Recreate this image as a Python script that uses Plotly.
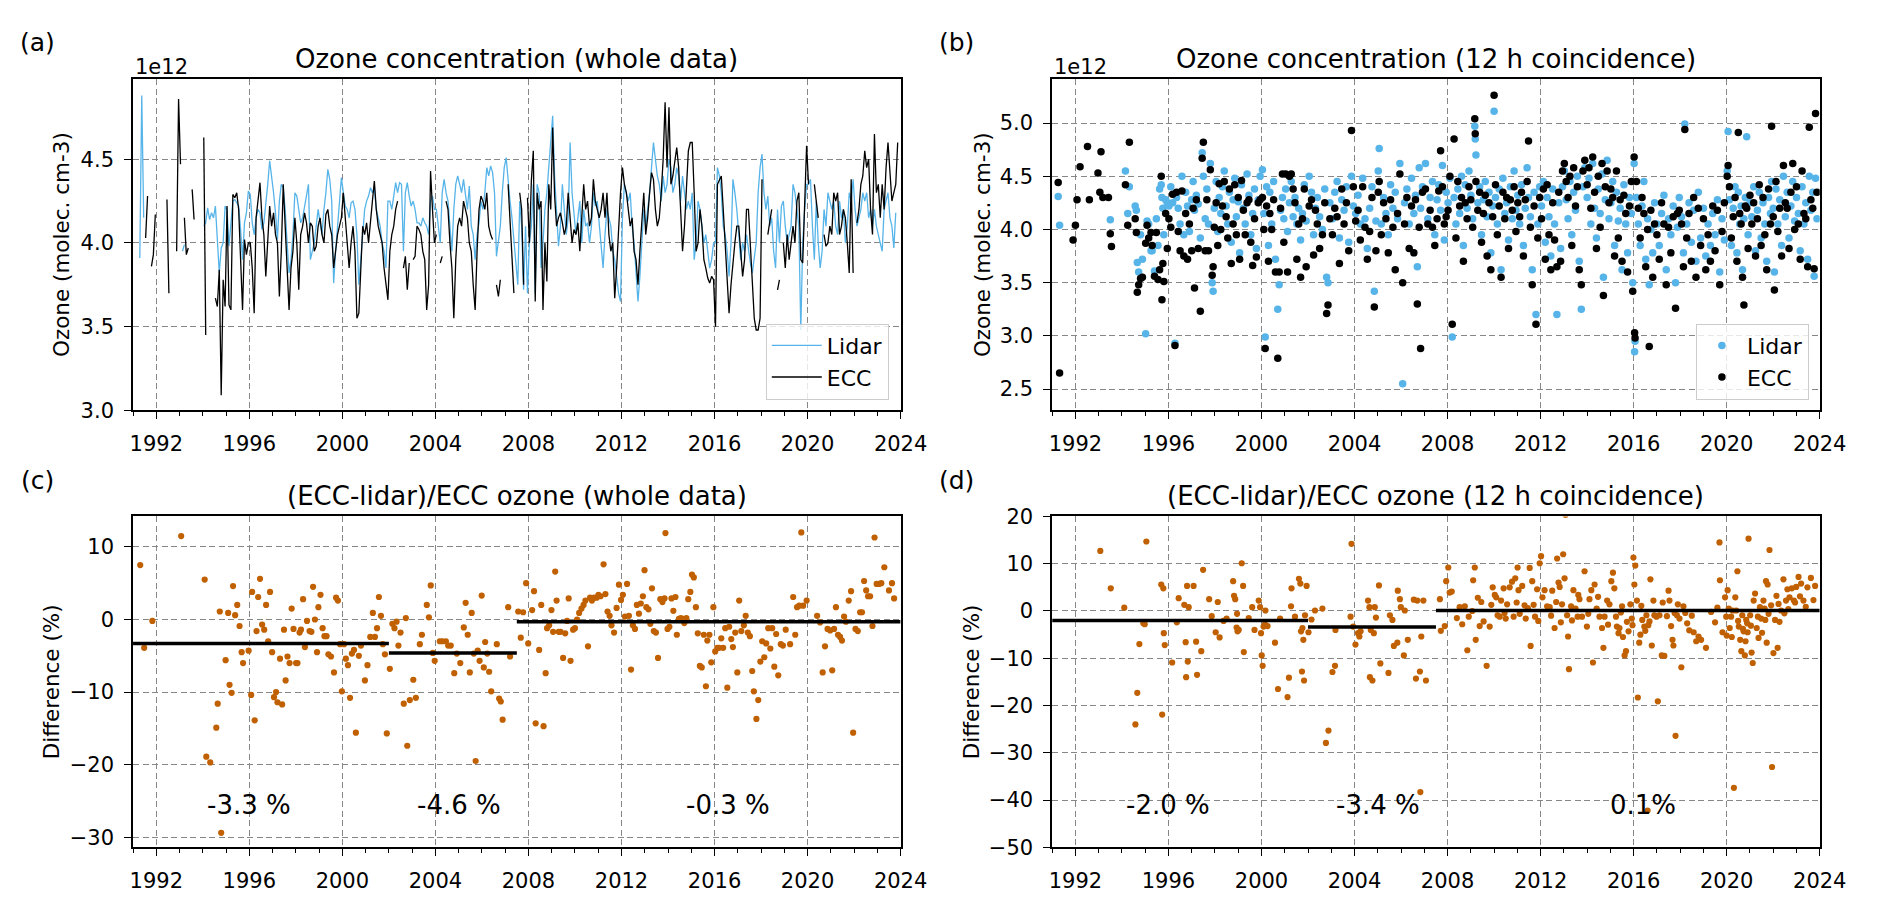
import plotly.graph_objects as go

N = None

# ---------------- panel (a): monthly means Jan..Dec per year, units 1e12 molec. cm-3
years_a = list(range(1991, 2024))
lidar_a = [
    N, N, N, 3.91, 4.88, 4.15, N, N, N, N, N, N,                          # 1991
    N, N, N, N, N, N, N, N, N, N, N, N,                                   # 1992
    N, 3.95, 3.99, N, N, N, N, N, N, N, N, N,                             # 1993
    4.10, 4.12, 4.21, 4.14, 4.18, 4.15, 4.22, 4.03, 3.82, 3.97, 4.00, 4.22,  # 1994
    4.20, 3.98, 4.10, 4.25, 4.26, 4.24, 4.22, 4.08, 3.90, 4.12, 4.18, 4.31,  # 1995
    4.29, 4.12, 4.05, 4.15, 4.20, 4.18, 4.08, 4.12, 4.22, 4.35, 4.49, 4.40,  # 1996
    4.30, 4.18, 4.02, 4.25, 4.35, 4.33, 4.20, 4.00, 3.82, 3.90, 4.05, 4.30,  # 1997
    4.28, 4.20, 4.12, 4.15, 4.22, 4.30, 4.35, 3.90, 3.95, 4.00, 4.10, 4.20,  # 1998
    4.12, 4.05, 4.20, 4.30, 4.44, 4.38, 4.25, 3.76, 3.95, 4.10, 4.20, 4.39,  # 1999
    4.30, 4.22, 4.20, 4.15, 4.24, 4.25, 4.20, 4.05, 3.75, 3.90, 4.00, 4.20,  # 2000
    4.25, 4.28, 4.33, 4.30, 4.33, 4.20, 4.15, 4.10, 4.00, 3.95, 3.85, 4.25,  # 2001
    4.25, 4.20, 4.28, 4.36, 4.30, 4.36, 4.35, 3.95, 4.30, 4.36, 4.28, 4.22,  # 2002
    4.25, 4.20, 4.12, 4.12, 4.10, 4.15, 4.12, 4.10, 4.05, 4.25, 4.28, 4.20,  # 2003
    4.20, 4.10, 4.00, 4.30, 4.38, 4.30, 4.25, 4.10, 3.95, 4.20, 4.35, 4.40,  # 2004
    4.35, 4.30, 4.38, 4.30, 4.20, 4.34, 4.10, 4.05, 3.90, 4.05, 4.12, 4.25,  # 2005
    4.20, 4.30, 4.45, 4.40, 4.46, 4.42, 4.30, 3.92, 4.00, 4.10, 4.30, 4.45,  # 2006
    4.51, 4.35, 4.25, 4.15, 4.00, 3.90, 3.75, 4.25, 4.10, 3.72, 4.10, 3.70,  # 2007
    4.00, 4.10, 4.35, 3.70, 4.35, 4.30, 3.85, 4.00, 4.20, 4.30, 4.45, 4.60,  # 2008
    4.76, 4.40, 4.20, 3.98, 4.10, 4.35, 4.20, 4.05, 4.15, 4.60, 4.30, 4.15,  # 2009
    4.05, 4.15, 4.25, 4.00, 4.20, 4.10, 4.12, 4.00, 4.10, 4.30, 4.22, 4.25,  # 2010
    4.10, 4.00, 3.85, 4.05, 4.20, 4.15, 4.10, 3.95, 3.90, 3.80, 3.70, 3.65,  # 2011
    4.15, 4.35, 4.30, 4.25, 4.30, 4.10, 4.00, 3.85, 3.65, 3.80, 4.00, 4.20,  # 2012
    4.10, 4.20, 4.30, 4.45, 4.60, 4.50, 4.40, 4.35, 4.25, 4.40, 4.30, 4.35,  # 2013
    4.50, 4.45, 4.30, 4.35, 4.45, 4.40, 4.25, 4.40, 4.30, 4.20, 4.25, 4.20,  # 2014
    4.30, 3.90, 4.00, 4.25, 4.20, 4.10, 4.00, 4.05, 3.95, 3.85, 3.90, 4.00,  # 2015
    4.00, 4.45, 4.40, 4.30, 4.10, 4.05, 3.95, 3.80, 4.00, 4.38, 4.30, 4.20,  # 2016
    4.05, 3.90, 4.00, 3.95, 4.05, 3.95, 3.88, 3.82, 3.90, 4.00, 4.30, 4.45,  # 2017
    4.53, 4.30, 4.20, 4.28, 4.10, 4.15, 3.95, 3.85, 4.20, 4.00, 4.22, 4.25,  # 2018
    4.10, 4.00, 4.05, 4.10, 4.35, 4.30, 4.20, 4.10, 3.48, 4.00, 4.20, 4.35,  # 2019
    4.35, 4.38, 4.10, 3.90, 4.25, 4.00, 3.85, 3.95, 4.20, 4.10, 4.30, 4.25,  # 2020
    4.20, 4.25, 4.10, 4.05, 4.25, 4.15, 4.20, 4.00, 4.10, 4.30, 4.25, 4.38,  # 2021
    4.20, 4.10, 4.15, 4.20, 4.30, 4.25, 4.30, 4.15, 4.20, 4.10, 4.20, 4.10,  # 2022
    4.05, 4.00, 3.95, 4.20, 4.25, 4.30, 4.15, 4.10, 3.97, 4.18, N, N,        # 2023
]
ecc_a = [
    N, N, N, N, N, N, 4.03, 4.28, N, 3.86, 3.93, 4.17,                    # 1991
    N, N, N, N, N, 4.26, 3.70, N, N, N, 3.95, 4.86,                       # 1992
    4.47, N, 4.15, 3.93, 3.97, N, 4.32, 4.14, N, N, N, N,                 # 1993
    4.63, 3.45, N, N, N, N, 3.67, 3.62, 3.84, 3.09, 3.78, 3.62,           # 1994
    4.22, 3.63, 3.60, 4.29, 4.27, 4.30, 4.20, 3.92, 3.60, 4.02, 3.93, 4.00,  # 1995
    4.00, 3.85, 3.58, 4.15, 4.28, 4.36, 4.15, 4.05, 3.80, 4.00, 4.22, 4.10,  # 1996
    4.18, 4.05, 4.00, 3.68, 3.95, 4.35, 4.10, 3.85, 3.60, 3.85, 3.95, 4.15,  # 1997
    4.00, 3.72, 4.05, 4.10, 4.18, 4.12, 4.00, 4.12, 4.10, 3.95, 3.98, 4.10,  # 1998
    4.15, 4.05, 4.00, 4.17, 4.20, 4.10, 4.05, 3.85, 3.95, 4.05, 4.10, 4.15,  # 1999
    4.30, 4.15, 3.95, 3.85, 4.00, 4.10, 3.95, 3.55, 3.58, 3.80, 4.10, 4.05,  # 2000
    4.12, 4.00, 4.15, 4.25, 4.37, 4.20, 4.10, 4.05, 4.00, 3.85, 3.75, 3.66,  # 2001
    3.95, 4.05, 4.10, 4.20, 4.25, N, N, 3.85, 3.92, 3.72, 3.88, N,           # 2002
    3.90, 3.92, 4.10, 4.08, 4.05, 3.95, 3.90, 3.60, 3.75, 4.43, 4.20, 4.00,  # 2003
    4.05, N, 3.88, 3.92, N, 4.25, 4.20, 4.00, 3.85, 3.55, 3.90, 4.10,        # 2004
    4.15, 4.10, 4.25, 4.20, 4.15, 4.00, 3.95, 3.75, 3.60, 3.95, 4.20, 4.28,  # 2005
    4.25, 4.20, 4.30, 4.10, 4.05, 4.02, N, 3.75, 3.68, 3.78, N, N,           # 2006
    N, 4.35, 4.12, 3.95, 3.70, N, N, 4.30, 4.20, 3.75, N, 4.27,              # 2007
    4.00, 4.37, 4.55, 3.65, 4.30, 4.20, 4.25, 3.60, 4.00, 3.77, 4.35, 4.20,  # 2008
    4.69, 4.28, 4.10, 4.15, 4.18, 4.12, 4.05, 4.10, 4.30, 4.15, 4.00, 4.08,  # 2009
    4.05, 4.12, 3.95, 4.15, 4.35, 4.20, 4.25, 4.10, 4.15, 4.38, 4.25, 4.20,  # 2010
    4.15, 4.20, 4.30, 4.15, 4.30, 4.05, 3.95, 4.00, 3.67, 3.85, 4.10, 4.30,  # 2011
    4.45, 4.35, 4.30, 4.20, 4.10, 4.15, 3.95, 3.90, 3.75, 3.95, 4.10, 4.30,  # 2012
    4.05, 4.15, 4.30, 4.42, 4.38, 4.20, 4.10, 4.15, 4.30, 4.50, 4.84, 4.45,  # 2013
    4.81, 4.35, 4.40, 4.50, 4.57, 4.45, 4.20, 3.95, 4.10, 4.30, 4.55, 4.60,  # 2014
    4.60, 4.30, 3.95, 4.00, 4.20, 4.10, 3.90, 3.85, 3.79, 3.76, 3.80, 3.78,  # 2015
    3.50, 4.35, 4.38, 4.40, 4.20, 4.00, 3.85, 3.58, 3.75, 3.90, 4.00, 4.10,  # 2016
    4.10, 3.95, 3.80, 3.90, 4.20, 4.20, 4.00, 3.80, 3.55, 3.48, 3.48, 3.55,  # 2017
    4.38, N, N, 4.05, 4.12, 4.20, N, N, 3.72, 3.78, N, 4.00,                 # 2018
    3.85, 4.05, 3.90, 4.00, 4.10, 4.00, 4.25, 4.30, 3.90, 3.88, 4.20, 4.58,  # 2019
    4.35, N, N, 4.35, 4.25, 4.15, N, N, 4.05, 3.98, 4.00, 4.10,              # 2020
    4.05, 4.30, 4.25, 4.30, 4.05, 4.10, 4.20, 4.15, 4.00, 3.82, 4.38, 3.82,  # 2021
    N, 4.12, 4.20, 4.35, 4.40, 4.55, 4.45, 4.50, 4.20, 4.05, 4.65, 4.30,     # 2022
    4.35, 4.15, 4.35, 4.20, 4.45, 4.60, 4.40, 4.25, 4.30, 4.35, 4.60, N,     # 2023
]

# ---------------- panel (b): 12 h coincidences (decimal year), units 1e12 molec. cm-3
dates_b = [
    1991.26, 1991.32, 1991.90, 1992.00, 1992.07, 1992.20, 1992.52, 1992.60, 1992.97, 1993.05, 1993.10, 1993.18, 1993.42, 1993.50, 1993.55,
    1994.15, 1994.25, 1994.32, 1994.57, 1994.62, 1994.66, 1994.72, 1994.80, 1994.88, 1995.02, 1995.08, 1995.15, 1995.25, 1995.30, 1995.40, 1995.48, 1995.55, 1995.62, 1995.69, 1995.72, 1995.76, 1995.80, 1995.88, 1995.95,
    1996.02, 1996.10, 1996.18, 1996.28, 1996.35, 1996.42, 1996.50, 1996.58, 1996.66, 1996.74, 1996.82, 1996.90, 1997.00, 1997.06, 1997.12, 1997.20, 1997.28, 1997.37, 1997.45, 1997.50, 1997.58, 1997.65, 1997.72, 1997.80, 1997.88, 1997.92, 1997.97,
    1998.05, 1998.12, 1998.18, 1998.25, 1998.32, 1998.40, 1998.48, 1998.55, 1998.62, 1998.70, 1998.78, 1998.85, 1998.92, 1999.00, 1999.06, 1999.14, 1999.22, 1999.30, 1999.38, 1999.46, 1999.54, 1999.62, 1999.70, 1999.78, 1999.86, 1999.94,
    2000.04, 2000.10, 2000.16, 2000.22, 2000.30, 2000.36, 2000.44, 2000.52, 2000.60, 2000.70, 2000.76, 2000.82, 2000.90, 2000.96, 2001.04, 2001.12, 2001.20, 2001.28, 2001.36, 2001.44, 2001.52, 2001.60, 2001.68, 2001.76, 2001.84, 2001.92,
    2002.05, 2002.15, 2002.24, 2002.32, 2002.40, 2002.50, 2002.62, 2002.72, 2002.80, 2002.86, 2002.94, 2003.05, 2003.15, 2003.25, 2003.35, 2003.45, 2003.55, 2003.65, 2003.75, 2003.87, 2003.95,
    2004.05, 2004.15, 2004.25, 2004.35, 2004.45, 2004.55, 2004.65, 2004.75, 2004.85, 2004.92, 2005.02, 2005.06, 2005.15, 2005.25, 2005.35, 2005.45, 2005.55, 2005.65, 2005.75, 2005.85, 2005.95,
    2006.07, 2006.15, 2006.25, 2006.35, 2006.45, 2006.55, 2006.62, 2006.70, 2006.78, 2006.84, 2006.92, 2007.05, 2007.15, 2007.25, 2007.35, 2007.45, 2007.55, 2007.62, 2007.70, 2007.78, 2007.86, 2007.94,
    2008.02, 2008.10, 2008.20, 2008.28, 2008.36, 2008.44, 2008.52, 2008.60, 2008.68, 2008.76, 2008.84, 2008.92, 2009.00, 2009.08, 2009.17, 2009.19, 2009.22, 2009.30, 2009.38, 2009.46, 2009.54, 2009.62, 2009.70, 2009.78, 2009.86, 2009.94,
    2010.00, 2010.06, 2010.14, 2010.22, 2010.30, 2010.38, 2010.46, 2010.54, 2010.62, 2010.70, 2010.78, 2010.86, 2010.94, 2011.02, 2011.10, 2011.18, 2011.26, 2011.34, 2011.42, 2011.48, 2011.56, 2011.64, 2011.72, 2011.80, 2011.88, 2011.96,
    2012.04, 2012.12, 2012.20, 2012.28, 2012.36, 2012.44, 2012.52, 2012.60, 2012.70, 2012.78, 2012.86, 2012.94, 2013.02, 2013.10, 2013.18, 2013.26, 2013.34, 2013.42, 2013.50, 2013.58, 2013.66, 2013.75, 2013.82, 2013.90,
    2014.00, 2014.08, 2014.16, 2014.24, 2014.32, 2014.40, 2014.48, 2014.56, 2014.64, 2014.70, 2014.78, 2014.86, 2014.94, 2015.02, 2015.10, 2015.18, 2015.26, 2015.34, 2015.42, 2015.50, 2015.58, 2015.66, 2015.74, 2015.82, 2015.90, 2015.96,
    2016.02, 2016.04, 2016.06, 2016.12, 2016.20, 2016.28, 2016.36, 2016.44, 2016.52, 2016.60, 2016.67, 2016.74, 2016.82, 2016.90, 2017.00, 2017.10, 2017.20, 2017.30, 2017.40, 2017.50, 2017.60, 2017.70, 2017.80, 2017.88, 2017.96,
    2018.06, 2018.14, 2018.20, 2018.28, 2018.38, 2018.48, 2018.58, 2018.68, 2018.78, 2018.88, 2019.00, 2019.10, 2019.20, 2019.30, 2019.40, 2019.50, 2019.60, 2019.70, 2019.80, 2019.90,
    2020.02, 2020.06, 2020.12, 2020.20, 2020.28, 2020.36, 2020.44, 2020.50, 2020.56, 2020.62, 2020.68, 2020.74, 2020.80, 2020.86, 2020.92, 2021.00, 2021.08, 2021.16, 2021.24, 2021.32, 2021.40, 2021.48, 2021.56, 2021.64, 2021.72, 2021.80, 2021.88, 2021.93,
    2022.00, 2022.05, 2022.12, 2022.20, 2022.28, 2022.36, 2022.44, 2022.52, 2022.60, 2022.68, 2022.76, 2022.84, 2022.92, 2023.00, 2023.08, 2023.16, 2023.24, 2023.32, 2023.40, 2023.48, 2023.55, 2023.62, 2023.70, 2023.76, 2023.82, 2023.88,
]
lidar_b = [
    4.31, 4.04, N, N, N, N, N, N, N, N, N, N, N, 4.09, N,
    4.55, 4.15, 4.40, 4.22, 4.18, 3.69, 3.60, 3.95, 3.72, 3.02, 4.08, 4.05, 3.80, 3.80, 3.61, 4.10, 3.85, 4.38, 4.42, 4.30, 4.20, 3.95, 4.28, 4.25,
    4.22, 4.40, 4.25, 2.93, 4.30, 4.20, 4.05, 4.50, 3.95, 4.35, 4.22, 3.98, 4.28, 4.45, 4.18, 4.32, 4.24, 3.92, 4.72, 4.50, 4.10, 4.38, 4.05, 4.62, 3.50, 3.42, 4.20,
    4.45, 3.98, 4.30, 4.15, 4.40, 4.55, 4.22, 4.05, 4.35, 3.88, 4.28, 4.48, 4.12, 4.26, 3.78, 4.42, 4.20, 4.05, 4.52, 4.32, 3.95, 4.15, 4.38, 3.82, 4.28, 4.50,
    4.56, 4.15, 2.99, 4.40, 3.85, 4.35, 4.05, 4.45, 3.72, 3.25, 3.48, 4.18, 4.30, 4.10, 4.38, 3.98, 4.25, 4.45, 4.12, 4.30, 4.05, 4.20, 3.90, 4.15, 4.42, 4.08,
    4.50, 4.35, 3.95, 4.20, 4.30, 4.12, 4.00, 4.38, 3.55, 3.50, 4.25, 4.10, 4.35, 4.45, 3.92, 4.28, 4.18, 4.40, 3.88, 4.50, 4.22,
    4.15, 4.32, 4.05, 4.48, 4.10, 3.82, 4.20, 4.40, 3.42, 4.08, 4.55, 4.76, 4.05, 4.30, 4.15, 3.95, 4.42, 4.20, 4.35, 4.10, 4.62,
    2.55, 4.25, 4.38, 4.05, 4.48, 4.15, 4.32, 3.65, 4.58, 4.20, 4.40, 4.62, 4.10, 4.30, 4.45, 3.95, 4.28, 4.42, 4.18, 4.60, 3.90, 4.35,
    4.25, 4.48, 2.99, 4.30, 4.05, 4.38, 4.15, 4.50, 3.85, 4.42, 4.20, 4.55, 4.32, 4.10, 4.97, 4.85, 4.70, 4.25, 4.40, 3.95, 4.28, 4.45, 4.12, 4.35, 3.78, 4.22,
    5.11, 4.30, 4.05, 4.38, 3.62, 4.48, 4.15, 4.25, 3.90, 4.40, 4.10, 4.55, 4.18, 4.32, 4.05, 4.42, 3.85, 4.20, 4.58, 4.30, 4.12, 3.62, 4.35, 3.20, 4.05, 4.40,
    4.22, 4.45, 3.88, 4.30, 4.12, 3.75, 4.38, 4.05, 3.20, 4.25, 3.82, 4.40, 4.55, 4.28, 4.10, 4.45, 3.95, 4.35, 4.18, 4.50, 3.70, 3.25, 4.40, 4.58,
    4.30, 4.48, 4.05, 4.62, 4.20, 3.92, 4.38, 4.15, 4.52, 3.55, 4.28, 4.65, 4.10, 4.25, 4.45, 3.85, 4.35, 4.08, 4.20, 3.62, 4.42, 4.05, 3.78, 4.30, 4.15, 3.50,
    4.62, 2.85, 2.95, 4.30, 4.05, 3.85, 4.22, 4.45, 3.72, 4.10, 3.48, 4.00, 3.78, 4.25, 4.05, 3.85, 4.15, 4.32, 3.62, 4.10, 3.95, 4.22, 3.50, 4.02, 4.30,
    4.12, 3.78, 4.99, 4.05, 4.25, 3.88, 4.18, 3.70, 4.35, 3.92, 4.20, 3.75, 4.05, 3.85, 4.15, 3.95, 4.28, 3.60, 4.10, 3.90,
    4.55, 4.92, 4.28, 3.85, 4.20, 4.40, 3.78, 4.35, 4.05, 4.22, 3.62, 4.10, 4.30, 4.87, 3.95, 4.25, 4.12, 4.40, 3.80, 4.18, 4.35, 3.92, 4.25, 4.05, 3.70, 4.30, 4.15, 4.45,
    4.20, 3.60, 4.38, 4.05, 4.28, 3.85, 4.50, 4.12, 4.35, 3.92, 4.22, 4.45, 4.08, 4.30, 4.15, 3.80, 4.40, 4.05, 4.25, 3.72, 4.50, 4.18, 4.35, 3.56, 4.48, 4.10,
]
ecc_b = [
    4.44, 2.65, 3.90, 4.04, 4.28, 4.59, 4.78, 4.28, 4.53, 4.35, 4.73, 4.30, 4.30, 3.96, 3.84,
    4.42, 4.04, 4.82, 4.10, 3.97, 3.41, 3.48, 3.54, 3.55, 3.87, 4.04, 3.92, 3.97, 3.85, 3.56, 3.97, 3.53, 3.62, 4.50, 3.34, 3.68, 3.51, 4.15, 3.82,
    4.10, 4.02, 4.33, 2.91, 4.35, 3.98, 3.80, 4.36, 3.75, 4.15, 3.72, 4.05, 3.80, 4.20, 3.45, 4.28, 3.82, 3.23, 4.67, 4.82, 3.80, 4.28, 3.80, 4.56, 3.57, 3.65, 4.02,
    4.25, 3.85, 4.43, 4.00, 4.22, 4.45, 4.12, 3.92, 4.38, 3.68, 4.05, 4.42, 3.95, 4.30, 3.72, 4.46, 4.18, 3.95, 4.25, 4.28, 3.88, 3.66, 4.10, 3.74, 4.25, 4.28,
    4.30, 4.00, 2.88, 4.22, 3.70, 4.15, 4.00, 4.28, 3.60, 2.79, 3.60, 4.20, 4.52, 3.88, 4.52, 3.60, 4.50, 4.52, 4.38, 4.25, 3.72, 4.05, 3.55, 4.10, 4.38, 3.65,
    4.22, 4.28, 3.76, 4.18, 4.05, 3.82, 3.95, 4.25, 3.21, 3.29, 4.10, 3.95, 4.20, 4.12, 3.68, 4.38, 4.05, 4.25, 3.80, 4.93, 4.40,
    4.08, 4.18, 3.90, 4.40, 4.02, 3.72, 3.98, 4.30, 3.27, 3.80, 4.35, 4.45, 3.95, 4.25, 4.10, 3.78, 4.28, 4.02, 3.62, 4.15, 4.52,
    3.50, 4.05, 4.30, 3.82, 4.22, 3.78, 4.28, 3.30, 4.02, 2.88, 4.35, 4.38, 4.05, 4.18, 4.02, 3.85, 4.10, 4.36, 4.74, 4.40, 4.05, 4.12,
    4.18, 4.50, 3.11, 4.85, 3.92, 4.45, 4.22, 4.30, 3.70, 4.25, 4.10, 4.40, 4.28, 4.02, 5.04, 4.90, 4.45, 4.18, 4.35, 3.88, 4.15, 4.32, 3.75, 4.25, 3.62, 4.12,
    5.26, 4.42, 3.95, 4.22, 3.55, 4.35, 4.10, 4.30, 3.82, 4.28, 4.18, 4.40, 3.98, 4.25, 4.12, 4.35, 3.75, 4.28, 4.45, 4.83, 4.02, 3.48, 4.22, 3.11, 3.92, 4.30,
    4.10, 4.38, 3.72, 4.42, 3.95, 3.62, 4.25, 3.90, 3.65, 4.35, 3.70, 4.55, 4.62, 4.45, 4.30, 4.50, 3.85, 4.58, 4.22, 4.40, 3.62, 3.48, 4.55, 4.65,
    4.42, 4.58, 4.20, 4.68, 4.35, 3.82, 4.50, 4.02, 4.62, 3.38, 4.40, 4.55, 4.25, 4.38, 4.30, 3.75, 4.55, 3.92, 4.28, 3.70, 4.32, 4.15, 3.60, 4.22, 4.45, 3.42,
    4.68, 3.03, 2.98, 4.45, 4.20, 3.92, 4.30, 4.15, 3.65, 4.00, 2.90, 4.18, 3.55, 4.05, 3.95, 3.72, 4.25, 4.05, 3.48, 4.02, 3.78, 4.12, 3.26, 4.15, 4.18,
    4.05, 3.65, 4.94, 3.92, 4.15, 3.70, 4.30, 3.55, 4.20, 3.85, 4.10, 3.62, 3.95, 3.70, 4.22, 3.80, 4.18, 3.48, 3.98, 4.25,
    4.50, 4.60, 4.40, 3.92, 4.12, 4.30, 3.70, 4.91, 4.15, 4.05, 3.55, 3.29, 4.22, 4.20, 3.82, 4.32, 4.05, 4.25, 3.75, 4.10, 4.42, 3.85, 4.30, 3.95, 3.62, 4.38, 4.05, 4.97,
    4.12, 3.43, 4.45, 3.98, 4.20, 3.75, 4.60, 4.25, 4.20, 3.82, 4.35, 4.62, 4.00, 4.40, 4.05, 3.72, 4.55, 4.15, 4.10, 3.65, 4.96, 4.28, 4.20, 3.63, 5.09, 4.35,
]

# ---------------- panel (c): (ECC-lidar)/ECC, whole data, %
dates_c = [
    1991.31, 1991.48, 1991.83, 1993.07, 1994.08, 1994.15, 1994.32, 1994.58, 1994.64, 1994.73,
    1994.79, 1994.98, 1995.09, 1995.15, 1995.24, 1995.30, 1995.39, 1995.48, 1995.58, 1995.67,
    1995.73, 1995.97, 1996.08, 1996.12, 1996.23, 1996.31, 1996.38, 1996.46, 1996.55, 1996.64,
    1996.72, 1996.81, 1996.89, 1996.98, 1997.06, 1997.15, 1997.21, 1997.32, 1997.41, 1997.49,
    1997.56, 1997.64, 1997.73, 1997.82, 1997.90, 1998.01, 1998.07, 1998.16, 1998.22, 1998.31,
    1998.39, 1998.48, 1998.59, 1998.67, 1998.74, 1998.82, 1998.91, 1998.97, 1999.06, 1999.15,
    1999.23, 1999.32, 1999.40, 1999.51, 1999.64, 1999.73, 1999.81, 1999.90, 1999.98, 2000.07,
    2000.15, 2000.24, 2000.33, 2000.41, 2000.50, 2000.58, 2000.71, 2000.80, 2000.97, 2001.08,
    2001.20, 2001.31, 2001.40, 2001.49, 2001.57, 2001.66, 2001.74, 2001.83, 2001.91, 2002.04,
    2002.15, 2002.24, 2002.33, 2002.41, 2002.50, 2002.64, 2002.73, 2002.79, 2002.90, 2003.05,
    2003.16, 2003.33, 2003.42, 2003.63, 2003.72, 2003.80, 2003.89, 2003.97, 2004.19, 2004.30,
    2004.45, 2004.55, 2004.66, 2004.81, 2004.92, 2005.07, 2005.22, 2005.30, 2005.39, 2005.48,
    2005.56, 2005.65, 2005.73, 2005.82, 2005.90, 2005.99, 2006.08, 2006.14, 2006.23, 2006.31,
    2006.40, 2006.64, 2006.74, 2006.81, 2006.89, 2007.13, 2007.21, 2007.56, 2007.67, 2007.77,
    2007.90, 2007.99, 2008.16, 2008.24, 2008.31, 2008.46, 2008.55, 2008.65, 2008.74, 2008.80,
    2008.89, 2008.99, 2009.06, 2009.15, 2009.21, 2009.30, 2009.38, 2009.49, 2009.58, 2009.66,
    2009.73, 2009.81, 2009.92, 2010.00, 2010.09, 2010.18, 2010.28, 2010.37, 2010.45, 2010.56,
    2010.65, 2010.73, 2010.82, 2010.93, 2011.01, 2011.10, 2011.23, 2011.31, 2011.40, 2011.49,
    2011.57, 2011.68, 2011.79, 2011.89, 2011.98, 2012.06, 2012.15, 2012.24, 2012.32, 2012.41,
    2012.49, 2012.58, 2012.66, 2012.75, 2012.83, 2012.92, 2012.99, 2013.07, 2013.16, 2013.24,
    2013.31, 2013.39, 2013.48, 2013.57, 2013.67, 2013.76, 2013.85, 2013.89, 2013.98, 2014.06,
    2014.15, 2014.23, 2014.32, 2014.38, 2014.47, 2014.55, 2014.64, 2014.70, 2014.79, 2014.87,
    2014.96, 2015.03, 2015.11, 2015.20, 2015.28, 2015.37, 2015.45, 2015.54, 2015.63, 2015.69,
    2015.78, 2015.86, 2015.95, 2016.03, 2016.12, 2016.20, 2016.29, 2016.37, 2016.46, 2016.55,
    2016.63, 2016.72, 2016.79, 2016.89, 2016.98, 2017.06, 2017.15, 2017.26, 2017.34, 2017.43,
    2017.52, 2017.62, 2017.69, 2017.80, 2017.88, 2017.97, 2018.05, 2018.14, 2018.22, 2018.31,
    2018.40, 2018.48, 2018.57, 2018.65, 2018.74, 2018.85, 2018.94, 2019.06, 2019.25, 2019.38,
    2019.47, 2019.55, 2019.64, 2019.73, 2019.81, 2019.96, 2020.41, 2020.54, 2020.65, 2020.75,
    2020.86, 2020.97, 2021.06, 2021.14, 2021.22, 2021.31, 2021.40, 2021.48, 2021.57, 2021.65,
    2021.77, 2021.87, 2021.96, 2022.06, 2022.16, 2022.26, 2022.34, 2022.43, 2022.52, 2022.60,
    2022.69, 2022.79, 2022.88, 2022.97, 2023.07, 2023.17, 2023.30, 2023.50, 2023.63, 2023.72,
]
diff_c = [
    7.5, -3.9, -0.2, 11.5, 5.5, -18.9, -19.7, -14.9, -11.6, 1.1,
    -29.4, -5.6, 0.9, -9.0, -10.1, 4.6, 0.6, 2.0, -0.9, -4.5,
    -6.0, -4.3, -10.4, 3.8, -13.9, -1.6, 3.1, 5.6, -0.7, -1.4,
    2.0, -3.0, 3.8, -4.5, -10.7, -10.0, -11.4, -5.4, -11.7, -1.4,
    -8.4, -5.1, -6.0, 1.5, -1.3, -6.0, -6.0, -1.8, -1.4, 2.8,
    -3.8, -0.2, -1.6, -1.7, 4.5, 0.0, -4.5, 1.7, 3.4, -1.2,
    -2.3, -2.3, -4.8, -5.1, -7.3, 3.0, 2.6, -3.4, -9.9, -3.4,
    -5.4, -6.3, -10.8, -4.7, -4.2, -15.6, -5.0, -3.6, -8.4, -6.3,
    -2.4, 0.9, -2.4, -1.2, 3.1, 0.5, -3.4, -4.8, -15.7, -6.8,
    -0.6, -1.2, -0.3, -3.6, -1.8, -11.6, 0.2, -17.4, -11.1, -8.3,
    -10.8, -3.4, -2.1, 2.0, 0.3, 4.7, -4.6, -5.7, -3.0, -3.0,
    -3.0, -3.6, -3.6, -7.4, -4.7, -6.0, -1.1, 2.3, -2.1, -7.3,
    0.9, -4.7, -19.5, -4.3, -5.7, 3.3, -6.6, -3.1, -4.7, -7.2,
    -9.9, -3.4, -10.9, -11.3, -13.8, 1.7, -5.1, 1.1, -2.5, 1.0,
    5.0, -3.3, 1.3, 3.9, -14.3, -4.2, 2.0, -14.7, -7.4, -1.2,
    -0.8, 1.3, -1.7, 6.6, 2.6, -1.7, -1.7, -5.3, -1.9, -0.2,
    2.9, -5.7, -1.4, -1.2, 0.0, 0.9, 1.5, 2.0, 2.6, -3.7,
    3.0, 2.6, 3.0, 3.0, 3.4, 3.2, 7.6, 3.5, 1.1, 0.5,
    -0.8, -1.8, 1.6, 4.8, 2.7, 3.4, 0.4, 4.9, 0.5, -6.9,
    -0.8, -1.3, 2.0, 0.8, 2.2, 3.2, 6.8, 1.7, 1.4, -0.6,
    4.3, -1.6, -1.8, -5.3, 2.8, 2.4, 2.9, 11.9, -1.3, -1.0,
    2.9, 1.2, 3.1, -2.1, 0.1, 0.2, 0.1, -0.5, 0.2, 2.8,
    3.8, 6.2, 5.8, 1.7, -1.9, -6.4, -6.6, -2.1, -9.2, -2.9,
    -2.1, -5.9, 1.7, -4.4, -3.9, -3.9, -2.6, -3.9, -1.2, -9.4,
    -1.0, -2.7, -3.8, -1.8, -7.3, 2.6, -1.6, -0.8, 0.5, -1.8,
    -2.3, -7.1, -9.9, -13.7, -11.1, -5.8, -3.0, -5.2, -3.3, -1.2,
    -4.0, -1.2, -6.5, -2.0, -7.7, -3.4, -3.6, -1.4, -3.4, 3.1,
    -2.1, 1.7, 1.9, 12.0, 1.9, 2.6, 0.5, -0.4, -7.3, -3.7,
    -1.3, -1.5, -7.0, -1.3, 1.7, -2.1, -2.4, -2.9, 0.4, -0.3,
    2.6, 3.9, -15.6, -1.3, -1.6, 1.0, 1.0, 5.3, 4.0, 3.2,
    3.2, -0.9, 11.3, 4.9, 4.9, 5.0, 7.2, 4.0, 5.0, 2.9,
]

# ---------------- panel (d): (ECC-lidar)/ECC, 12 h coincidence, %
dates_d = [
    1993.07, 1993.52, 1994.10, 1994.58, 1994.66, 1994.75, 1994.92, 1994.98, 1995.05, 1995.69,
    1995.73, 1995.78, 1995.80, 1995.84, 1996.16, 1996.36, 1996.44, 1996.68, 1996.74, 1996.76,
    1996.80, 1996.83, 1996.87, 1997.08, 1997.19, 1997.23, 1997.41, 1997.49, 1997.75, 1997.86,
    1998.03, 1998.12, 1998.20, 1998.37, 1998.50, 1998.78, 1998.82, 1998.87, 1998.93, 1998.95,
    1998.97, 1999.02, 1999.15, 1999.21, 1999.24, 1999.88, 1999.94, 1999.98, 2000.01, 2000.05,
    2000.09, 2000.15, 2000.17, 2000.26, 2000.58, 2000.71, 2000.80, 2001.12, 2001.18, 2001.27,
    2001.29, 2001.44, 2001.61, 2001.67, 2001.70, 2001.74, 2001.76, 2001.80, 2001.83, 2001.87,
    2001.94, 2002.02, 2002.15, 2002.30, 2002.62, 2002.77, 2002.88, 2003.05, 2003.16, 2003.18,
    2003.83, 2003.87, 2003.94, 2004.04, 2004.15, 2004.21, 2004.26, 2004.58, 2004.64, 2004.66,
    2004.70, 2004.77, 2004.83, 2004.87, 2004.92, 2005.05, 2005.11, 2005.46, 2005.52, 2005.63,
    2005.69, 2005.84, 2005.86, 2005.95, 2005.99, 2006.12, 2006.16, 2006.29, 2006.55, 2006.64,
    2006.70, 2006.81, 2006.83, 2006.87, 2006.96, 2007.07, 2007.67, 2007.71, 2007.88, 2007.94,
    2008.03, 2008.09, 2008.18, 2008.63, 2008.74, 2008.85, 2008.91, 2009.06, 2009.10, 2009.17,
    2009.21, 2009.30, 2009.38, 2009.68, 2009.81, 2009.88, 2009.94, 2010.03, 2010.09, 2010.15,
    2010.24, 2010.30, 2010.41, 2010.50, 2010.56, 2010.67, 2010.77, 2010.84, 2010.91, 2011.01,
    2011.05, 2011.10, 2011.21, 2011.31, 2011.36, 2011.53, 2011.57, 2011.64, 2011.70, 2011.76,
    2011.85, 2011.96, 2012.02, 2012.08, 2012.17, 2012.28, 2012.39, 2012.50, 2012.60, 2012.67,
    2012.71, 2012.77, 2012.82, 2012.92, 2012.97, 2013.03, 2013.07, 2013.14, 2013.18, 2013.22,
    2013.31, 2013.41, 2013.50, 2013.59, 2013.67, 2013.78, 2013.89, 2013.99, 2014.10, 2014.18,
    2014.25, 2014.32, 2014.41, 2014.53, 2014.64, 2014.70, 2014.75, 2014.86, 2014.96, 2015.04,
    2015.11, 2015.17, 2015.24, 2015.28, 2015.35, 2015.39, 2015.50, 2015.54, 2015.61, 2015.67,
    2015.71, 2015.78, 2015.86, 2015.92, 2015.99, 2016.03, 2016.07, 2016.14, 2016.18, 2016.24,
    2016.29, 2016.37, 2016.46, 2016.55, 2016.60, 2016.63, 2016.72, 2016.78, 2016.85, 2016.89,
    2016.98, 2017.04, 2017.11, 2017.21, 2017.32, 2017.43, 2017.50, 2017.54, 2017.61, 2017.67,
    2017.71, 2017.76, 2017.80, 2017.86, 2017.97, 2018.05, 2018.14, 2018.22, 2018.39, 2018.58,
    2018.69, 2018.79, 2018.90, 2019.11, 2019.33, 2019.60, 2019.69, 2019.71, 2019.82, 2019.93,
    2019.98, 2020.04, 2020.09, 2020.13, 2020.19, 2020.26, 2020.31, 2020.37, 2020.41, 2020.46,
    2020.52, 2020.58, 2020.63, 2020.67, 2020.73, 2020.78, 2020.84, 2020.90, 2020.94, 2021.01,
    2021.07, 2021.12, 2021.16, 2021.22, 2021.29, 2021.37, 2021.43, 2021.48, 2021.58, 2021.63,
    2021.69, 2021.76, 2021.80, 2021.84, 2021.91, 2021.95, 2022.01, 2022.08, 2022.14, 2022.19,
    2022.23, 2022.34, 2022.44, 2022.55, 2022.61, 2022.70, 2022.80, 2022.89, 2022.99, 2023.09,
    2023.20, 2023.30, 2023.47, 2023.62, 2023.73, 2023.80,
    2008.40, 2008.52, 2009.45, 2009.55, 2010.45, 2010.97, 2011.45, 2011.90, 2012.45, 2012.87,
    2013.35, 2013.62, 2014.05, 2014.47, 2014.90, 2015.45, 2015.95, 2016.33, 2016.50, 2016.68,
    2017.25, 2017.90, 2018.30, 2018.50, 2019.50, 2020.00, 2020.22, 2020.49, 2020.70, 2020.81,
    2020.88, 2021.04, 2021.34, 2021.52, 2021.66, 2021.72, 2022.27, 2022.48, 2022.65, 2022.94,
    2023.15, 2023.40, 1999.45, 1999.60, 1999.70,
]
diff_d = [
    12.7, 4.8, 0.7, -24.0, -17.3, -7.0, -2.6, -2.8, 14.7, 5.6,
    -21.9, 4.8, -4.7, -7.2, -10.9, -2.4, 2.7, 1.3, -6.6, -14.0,
    5.3, -10.7, 0.8, 5.3, -6.5, -13.5, -8.5, 8.7, 2.5, -1.1,
    -4.5, 1.9, -5.6, -2.1, -1.6, 6.3, 3.2, 2.5, -3.5, -0.6,
    -4.3, -4.0, 10.1, 5.3, -8.7, 2.2, 0.8, -4.7, -9.4, -11.6,
    -3.3, -2.8, 0.1, -3.2, -6.7, -16.5, -1.6, -18.2, -14.1, 1.0,
    4.8, -1.2, 6.8, 5.8, -4.3, -12.8, -3.6, -6.1, -14.7, -0.9,
    5.3, -4.5, -1.8, 0.1, 0.5, -27.9, -25.3, -12.9, -11.6, -4.0,
    -1.2, 14.2, -3.3, -7.1, -4.7, -5.4, -4.3, 2.2, 0.8, -14.0,
    -4.0, -14.7, -4.7, 0.8, -1.4, 5.4, -11.1, -13.1, -0.9, -1.9,
    -7.4, -6.7, 4.3, 2.5, 0.8, -9.4, 0.1, -6.1, 2.4, -14.3,
    2.2, -12.8, -38.3, -5.4, 2.2, -14.7, 2.5, -4.2, -3.2, 6.3,
    9.2, 3.9, 4.1, -2.8, 1.0, -8.3, -1.2, 0.0, 6.5, 9.2,
    -6.1, 2.8, -3.2, -11.6, -3.3, 1.3, 5.0, 3.4, 2.9, -0.9,
    -1.2, 2.2, 4.8, -1.6, 1.4, 5.0, 6.2, -1.2, 6.9, 9.2,
    4.4, -0.6, 5.3, 1.2, -1.6, 9.1, -7.4, 6.3, 1.3, -1.2,
    4.6, 10.1, 11.6, 2.9, 4.4, 1.0, 0.8, 4.3, -3.6, 1.9,
    11.1, 6.0, 5.1, 1.4, 12.0, 6.9, 20.3, -0.9, -5.4, -12.3,
    1.0, 4.4, 0.5, -1.2, 2.5, -1.2, 8.4, -3.3, 2.5, 4.4,
    -10.9, 5.6, 0.5, -1.2, -3.6, -7.8, -1.2, 2.2, 1.4, 6.3,
    8.1, 4.8, -1.2, -3.3, -4.7, -3.6, 1.0, -5.5, -9.4, -8.5,
    -2.3, -4.3, 1.4, -1.6, 11.3, 5.6, 9.6, 2.2, -18.3, -6.7,
    -5.0, -1.9, -3.3, -0.9, -42.2, -3.0, 6.7, -7.3, 2.2, -0.9,
    -1.2, -19.1, -0.9, -9.4, -9.5, -1.1, 4.3, 2.2, -3.2, -6.1,
    -7.3, -0.4, -26.4, -0.9, -1.6, -11.9, 1.0, -0.4, -4.1, -4.5,
    -6.4, -5.4, -6.1, -7.8, -0.2, 0.7, 14.5, 6.5, -4.5, 2.9,
    -1.2, 4.4, 0.5, -3.6, -1.2, 0.1, -37.4, 2.9, 0.1, 8.4,
    -3.3, -6.1, -8.5, -0.9, -4.3, -9.4, -1.9, -4.5, 15.3, -0.9,
    -8.8, -11.0, 2.2, 3.7, -3.6, -5.7, 0.8, -1.6, 2.2, 0.5,
    6.3, 5.6, -0.6, 12.9, 1.2, -33.0, -8.9, -1.9, 3.2, -7.8,
    1.5, 0.1, 6.7, 2.2, 4.6, 2.9, 4.8, 2.2, 5.1, 7.2,
    5.8, 2.2, 5.0, 7.0, 2.3, 5.3,
    -1.5, 0.8, 1.9, -2.2, -0.4, 1.8, 0.6, -2.1, -1.0, -2.4,
    -2.0, 3.4, -0.6, 3.0, -2.9, -0.3, -3.0, 1.1, -4.2, -2.2,
    1.8, 1.4, -2.6, -1.0, -2.4, -5.2, -5.5, -2.1, -3.8, -6.4,
    -2.6, -3.1, -1.2, -4.6, -1.9, -6.7, -2.3, -0.5, 0.4, 1.8,
    3.1, 0.9, -1.5, 0.8, -4.0,
]

# period means
period_start = [1991.0, 2002.0, 2007.5]
period_end = [2002.0, 2007.5, 2024.0]
mean_c = [-3.3, -4.6, -0.3]
mean_d = [-2.0, -3.4, 0.1]
label_c = ["-3.3 %", "-4.6 %", "-0.3 %"]
label_d = ["-2.0 %", "-3.4 %", "0.1%"]

year_ticks = list(range(1992, 2025, 4))

# ---------------- styling / layout constants (page pixel coordinates)
FONT = "DejaVu Sans"
W, H = 1892, 910          # browser window
OFF = 8                   # default body margin of the page
FW, FH = W - OFF, H - OFF  # figure size
BLUE = "#56B4E9"
ORANGE = "#C06000"
GRID = "rgb(135,135,135)"

label_x_c = [1996.0, 2005.0, 2016.6]
label_x_d = [1996.0, 2005.0, 2016.4]
label_y_c = -25.6
label_y_d = -41.0


def px(xp):
    return (xp - OFF) / FW


def py(yp):
    return 1 - (yp - OFF) / FH


x_a = [y + (m + 0.5) / 12.0 for y in years_a for m in range(12)]

fig = go.Figure()

# (a)
fig.add_trace(go.Scatter(x=x_a, y=lidar_a, mode="lines", name="Lidar",
                         line=dict(color=BLUE, width=1.3), connectgaps=False,
                         xaxis="x", yaxis="y", legend="legend"))
fig.add_trace(go.Scatter(x=x_a, y=ecc_a, mode="lines", name="ECC",
                         line=dict(color="black", width=1.3), connectgaps=False,
                         xaxis="x", yaxis="y", legend="legend"))
# (b)
fig.add_trace(go.Scatter(x=dates_b, y=lidar_b, mode="markers", name="Lidar",
                         marker=dict(color=BLUE, size=7.5, line=dict(width=0)),
                         xaxis="x2", yaxis="y2", legend="legend2"))
fig.add_trace(go.Scatter(x=dates_b, y=ecc_b, mode="markers", name="ECC",
                         marker=dict(color="black", size=7.5, line=dict(width=0)),
                         xaxis="x2", yaxis="y2", legend="legend2"))
# (c)
fig.add_trace(go.Scatter(x=dates_c, y=diff_c, mode="markers", showlegend=False,
                         marker=dict(color=ORANGE, size=6.2, line=dict(width=0)),
                         xaxis="x3", yaxis="y3"))
# (d)
fig.add_trace(go.Scatter(x=dates_d, y=diff_d, mode="markers", showlegend=False,
                         marker=dict(color=ORANGE, size=6.2, line=dict(width=0)),
                         xaxis="x4", yaxis="y4"))

for i in range(3):
    fig.add_trace(go.Scatter(x=[period_start[i], period_end[i]], y=[mean_c[i], mean_c[i]],
                             mode="lines", line=dict(color="black", width=3.5),
                             showlegend=False, xaxis="x3", yaxis="y3"))
    fig.add_trace(go.Scatter(x=[period_start[i], period_end[i]], y=[mean_d[i], mean_d[i]],
                             mode="lines", line=dict(color="black", width=3.5),
                             showlegend=False, xaxis="x4", yaxis="y4"))

tickfont = dict(family=FONT, size=21, color="black")


def xcfg(domain, anchor):
    return dict(domain=domain, anchor=anchor, range=[1991, 2024],
                tickmode="array", tickvals=year_ticks, ticktext=[str(v) for v in year_ticks],
                ticks="outside", ticklen=7, tickwidth=1.3, tickcolor="black",
                ticklabelstandoff=7,
                showline=True, linecolor="black", linewidth=1.6, mirror=True,
                showgrid=True, gridcolor=GRID, griddash="6px,3.5px", gridwidth=1.1,
                zeroline=False, tickfont=tickfont,
                minor=dict(tick0=1991, dtick=1, ticks="outside", ticklen=4,
                           tickwidth=1, tickcolor="black", showgrid=False))


def ycfg(domain, anchor, rng, tick0, dtick, fmt):
    return dict(domain=domain, anchor=anchor, range=rng, tick0=tick0, dtick=dtick,
                tickformat=fmt, ticks="outside", ticklen=7, tickwidth=1.3, tickcolor="black",
                ticklabelstandoff=6,
                showline=True, linecolor="black", linewidth=1.6, mirror=True,
                showgrid=True, gridcolor=GRID, griddash="6px,3.5px", gridwidth=1.1,
                zeroline=False, tickfont=tickfont)


dx_l = [px(132), px(912)]
dx_r = [px(1066), px(1846)]
dy_t = [py(409), py(69)]
dy_b = [py(858), py(518)]

ann = []


def text(t, x, y, size, xanchor="center", angle=0):
    ann.append(dict(text=t, x=px(x), y=py(y), xref="paper", yref="paper",
                    showarrow=False, xanchor=xanchor, yanchor="middle", textangle=angle,
                    font=dict(family=FONT, size=size, color="black")))


text("(a)", 35, 31, 25)
text("(b)", 969, 31, 25)
text("(c)", 35, 481, 25)
text("(d)", 969, 481, 25)
text("Ozone concentration (whole data)", 522, 48, 26)
text("Ozone concentration (12 h coincidence)", 1456, 48, 26)
text("(ECC-lidar)/ECC ozone (whole data)", 522, 497, 26)
text("(ECC-lidar)/ECC ozone (12 h coincidence)", 1456, 497, 26)
text("1e12", 132, 56, 21, xanchor="left")
text("1e12", 1066, 56, 21, xanchor="left")
text("Ozone (molec. cm-3)", 60, 239, 21.5, angle=-90)
text("Ozone (molec. cm-3)", 996, 239, 21.5, angle=-90)
text("Difference (%)", 50, 688, 21.5, angle=-90)
text("Difference (%)", 984, 688, 21.5, angle=-90)

for i in range(3):
    ann.append(dict(text=label_c[i], x=label_x_c[i], y=label_y_c, xref="x3", yref="y3",
                    showarrow=False, font=dict(family=FONT, size=26, color="black")))
    ann.append(dict(text=label_d[i], x=label_x_d[i], y=label_y_d, xref="x4", yref="y4",
                    showarrow=False, font=dict(family=FONT, size=26, color="black")))

legend_style = dict(bgcolor="rgba(255,255,255,0.8)", bordercolor="#cccccc", borderwidth=1,
                    font=dict(family=FONT, size=22, color="black"),
                    xanchor="right", yanchor="bottom", tracegroupgap=0)

fig.update_layout(
    width=FW, height=FH, margin=dict(l=0, r=0, t=0, b=0),
    paper_bgcolor="white", plot_bgcolor="white",
    font=dict(family=FONT, color="black"),
    xaxis=xcfg(dx_l, "y"), yaxis=ycfg(dy_t, "x", [3.0, 4.977], 3.0, 0.5, ".1f"),
    xaxis2=xcfg(dx_r, "y2"), yaxis2=ycfg(dy_t, "x2", [2.30, 5.41], 2.5, 0.5, ".1f"),
    xaxis3=xcfg(dx_l, "y3"), yaxis3=ycfg(dy_b, "x3", [-31.4, 14.2], 0, 10, "d"),
    xaxis4=xcfg(dx_r, "y4"), yaxis4=ycfg(dy_b, "x4", [-50, 20], 0, 10, "d"),
    legend=dict(x=px(900), y=py(398), itemwidth=50, **legend_style),
    legend2=dict(x=px(1835), y=py(398), itemwidth=40, **legend_style),
    annotations=ann,
    showlegend=True,
)

fig.write_html("out.html")
